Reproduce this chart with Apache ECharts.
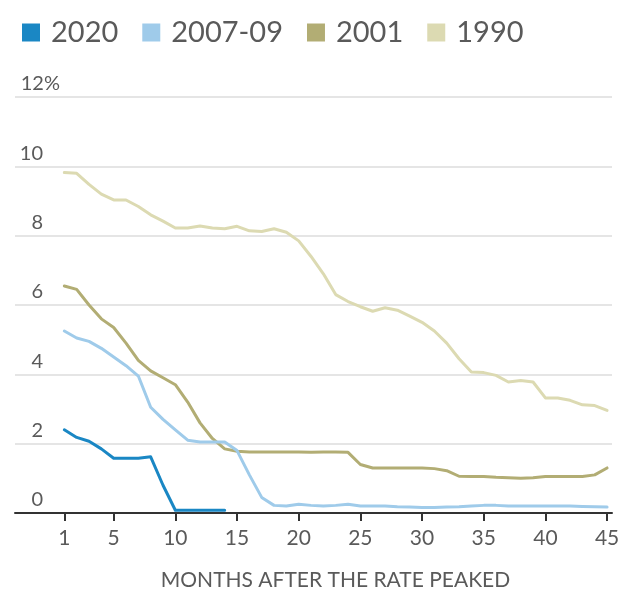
<!DOCTYPE html>
<html>
<head>
<meta charset="utf-8">
<script src="https://cdn.jsdelivr.net/npm/echarts@6/dist/echarts.min.js"></script>
<style>
  html, body { margin: 0; padding: 0; background: #fff; }
  #chart { width: 624px; height: 596px; }
</style>
</head>
<body>
<div id="chart"></div>
<script>
// Months after the peak unemployment rate
const months = Array.from({ length: 45 }, (_, i) => i + 1);
const monthTicks = [1, 5, 10, 15, 20, 25, 30, 35, 40, 45];
const yTicks = [0, 2, 4, 6, 8, 10, 12];

const seriesNames = ['2020', '2007-09', '2001', '1990'];

// Rate (%) by month after the peak
const rate2020 = [2.4, 2.18, 2.07, 1.85, 1.58, 1.58, 1.58, 1.62, 0.8, 0.08, 0.08, 0.08, 0.08, 0.08];
const rate2007 = [5.25, 5.05, 4.95, 4.75, 4.5, 4.25, 3.95, 3.05, 2.7, 2.4,
                  2.1, 2.05, 2.05, 2.05, 1.8, 1.1, 0.45, 0.22, 0.2, 0.25,
                  0.22, 0.2, 0.22, 0.25, 0.2, 0.2, 0.2, 0.18, 0.17, 0.16,
                  0.16, 0.17, 0.18, 0.2, 0.22, 0.22, 0.2, 0.2, 0.2, 0.2,
                  0.2, 0.2, 0.19, 0.18, 0.17];
const rate2001 = [6.55, 6.45, 6.0, 5.6, 5.35, 4.9, 4.4, 4.1, 3.9, 3.7,
                  3.2, 2.6, 2.15, 1.85, 1.78, 1.76, 1.76, 1.76, 1.76, 1.76,
                  1.75, 1.76, 1.76, 1.75, 1.4, 1.3, 1.3, 1.3, 1.3, 1.3,
                  1.28, 1.22, 1.06, 1.05, 1.05, 1.03, 1.02, 1.0, 1.02, 1.05,
                  1.05, 1.05, 1.05, 1.1, 1.3];
const rate1990 = [9.82, 9.8, 9.48, 9.2, 9.03, 9.03, 8.84, 8.6, 8.42, 8.22,
                  8.22, 8.28, 8.22, 8.2, 8.27, 8.14, 8.12, 8.2, 8.1, 7.85,
                  7.4, 6.9, 6.3, 6.1, 5.95, 5.82, 5.92, 5.85, 5.68, 5.5,
                  5.25, 4.9, 4.45, 4.07, 4.05, 3.97, 3.78, 3.82, 3.78, 3.32,
                  3.32, 3.25, 3.12, 3.1, 2.96];

const colors = {
  '2020': '#1a87c4',
  '2007-09': '#9fcbea',
  '2001': '#b2ad74',
  '1990': '#dcdab2'
};

const pairs = vals => vals.map((v, i) => [months[i], v]);

const font = 'Lato, "Open Sans", sans-serif';
const textGray = '#5a5a5a';

const chart = echarts.init(document.getElementById('chart'), null, { renderer: 'canvas' });

function line(name, vals, z) {
  return {
    name: name,
    type: 'line',
    data: pairs(vals),
    symbol: 'none',
    z: z,
    lineStyle: { color: colors[name], width: 3, join: 'round', cap: 'round' },
    itemStyle: { color: colors[name] },
    emphasis: { disabled: true }
  };
}

chart.setOption({
  animation: false,
  backgroundColor: '#fff',
  legend: {
    data: seriesNames,
    left: 17,
    top: 13,
    icon: 'rect',
    itemWidth: 18,
    itemHeight: 18,
    itemGap: 24,
    selectedMode: false,
    textStyle: {
      fontFamily: font,
      fontSize: 29,
      lineHeight: 18,
      color: textGray,
      padding: [0, 0, 0, 6]
    }
  },
  grid: { left: 15, right: 12, top: 97, bottom: 70, containLabel: false },
  xAxis: {
    type: 'value',
    min: -3,
    max: 45.4,
    name: 'MONTHS AFTER THE RATE PEAKED',
    nameLocation: 'middle',
    nameGap: 57,
    nameTextStyle: {
      fontFamily: font,
      fontSize: 21,
      color: textGray,
      padding: [0, 0, 0, 44]
    },
    axisLine: { show: true, lineStyle: { color: '#333', width: 2 } },
    axisTick: {
      show: true,
      customValues: monthTicks,
      length: 8,
      lineStyle: { color: '#333', width: 2 }
    },
    axisLabel: {
      customValues: monthTicks,
      fontFamily: font,
      fontSize: 21,
      color: textGray,
      margin: 15
    },
    splitLine: { show: false }
  },
  yAxis: {
    type: 'value',
    min: 0,
    max: 12,
    interval: 2,
    axisLine: { show: false },
    axisTick: { show: false },
    splitLine: { show: true, lineStyle: { color: '#dcdcdc', width: 1.5 } },
    axisLabel: {
      inside: true,
      align: 'right',
      verticalAlign: 'bottom',
      margin: 45,
      fontFamily: font,
      fontSize: 20,
      color: textGray,
      padding: [0, 0, 3, 0],
      formatter: v => (v === yTicks[yTicks.length - 1] ? v + '%' : v + '{s|\u00a0}'),
      rich: { s: { width: 17, fontSize: 20 } }
    }
  },
  series: [
    line('1990', rate1990, 2),
    line('2001', rate2001, 3),
    line('2007-09', rate2007, 4),
    line('2020', rate2020, 5)
  ]
});
</script>
</body>
</html>
